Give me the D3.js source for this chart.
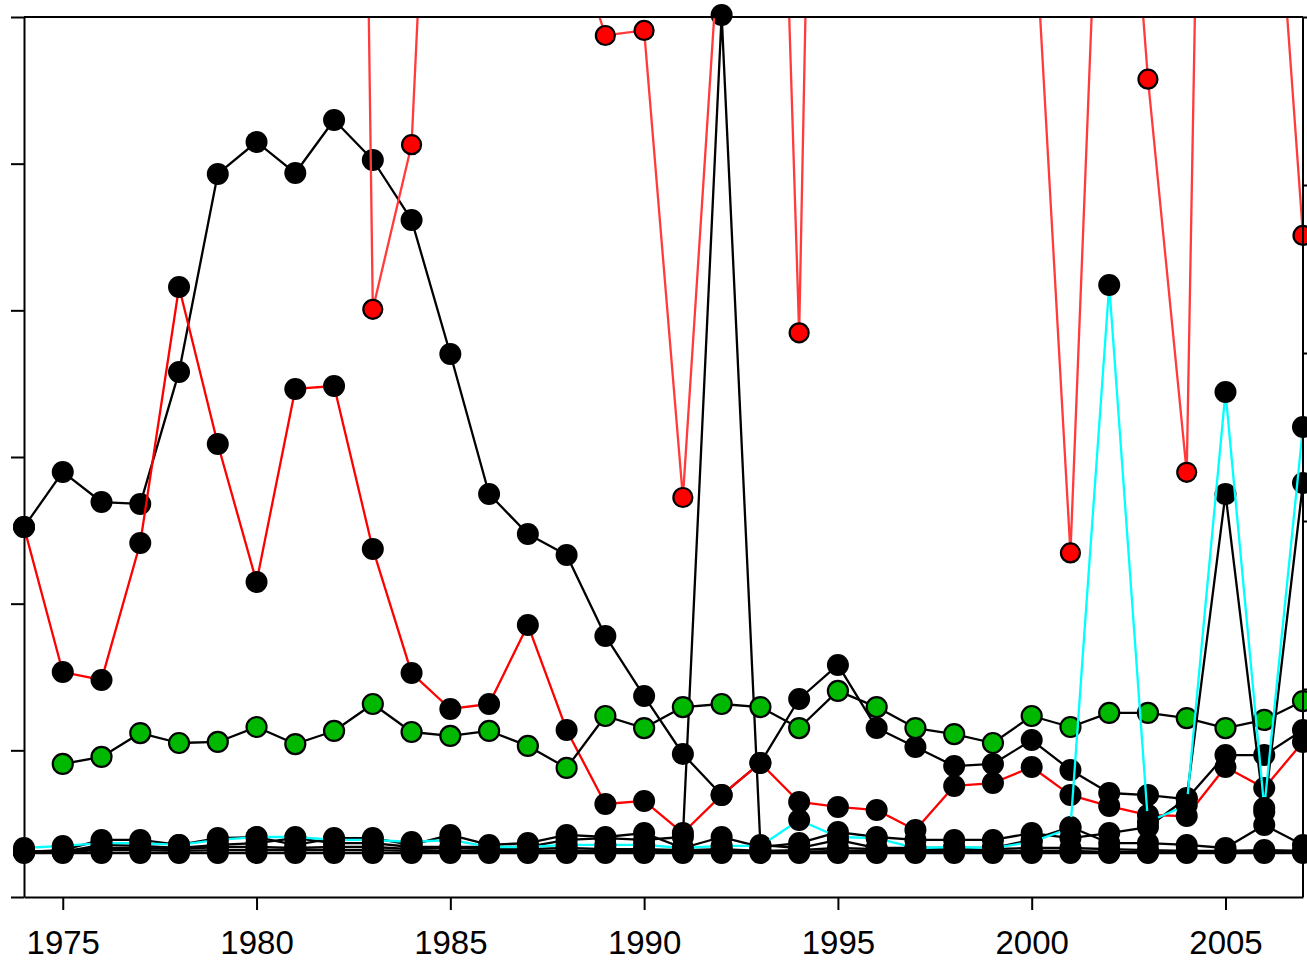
<!DOCTYPE html>
<html>
<head>
<meta charset="utf-8">
<script src="https://cdn.jsdelivr.net/npm/d3@7"></script>
<style>
  body { margin: 0; background: #fff; }
  svg { display: block; background: #fff; }
</style>
</head>
<body>
<svg id="chart" width="1307" height="962"></svg>
<script>
// years on the x axis
var years = [1974, 1975, 1976, 1977, 1978, 1979, 1980, 1981, 1982, 1983, 1984, 1985,
  1986, 1987, 1988, 1989, 1990, 1991, 1992, 1993, 1994, 1995, 1996, 1997,
  1998, 1999, 2000, 2001, 2002, 2003, 2004, 2005, 2006, 2007];
var yearTicks = [1975, 1980, 1985, 1990, 1995, 2000, 2005];
var leftTicks = [0, 10, 20, 30, 40, 50, 60];
var rightTicks = [0, 1, 2, 3, 4, 5];

// left axis series
var blackHump = [25.23, 28.98, 26.93, 26.80, 35.80, 49.30, 51.48, 49.36, 52.98, 50.25, 46.16, 37.02,
  27.48, 24.75, 23.32, 17.80, 13.70, 9.75, 6.95, 9.14, 13.50, 15.82, 11.52, 10.23,
  8.93, 9.07, 10.70, 8.66, 7.09, 6.95, 6.68, 9.68, 9.68, 11.39];
var redLine = [25.23, 15.34, 14.80, 24.14, 41.59, 30.89, 21.48, 34.64, 34.84, 23.73, 15.27, 12.82,
  13.16, 18.55, 11.39, 6.34, 6.55, 4.36, 6.95, 9.14, 6.48, 6.14, 5.93, 4.57,
  7.57, 7.77, 8.86, 6.95, 6.20, 5.59, 5.52, 8.86, 7.43, 10.57];
var greenDots = [null, 9.07, 9.55, 11.18, 10.50, 10.57, 11.59, 10.43, 11.32, 13.16, 11.25, 10.98,
  11.32, 10.30, 8.80, 12.34, 11.52, 12.95, 13.16, 12.95, 11.52, 14.05, 12.95, 11.52,
  11.11, 10.50, 12.34, 11.59, 12.55, 12.55, 12.20, 11.52, 12.07, 13.36];
var cyanLine = [3.34, 3.48, 3.68, 3.68, 3.55, 3.89, 4.09, 4.09, 3.89, 3.89, 3.75, 3.89,
  3.41, 3.41, 3.55, 3.55, 3.55, 3.34, 3.48, 3.48, 5.25, 4.09, 4.02, 3.34,
  3.41, 3.34, 3.75, 4.70, 41.73, 5.11, 6.27, 34.43, 6.07, 32.05];
var spike1992 = [3.07, 3.07, 3.55, 3.48, 3.34, 3.55, 3.68, 4.02, 3.68, 3.68, 3.41, 3.41,
  3.41, 3.41, 3.89, 4.02, 3.89, 4.09, 60.14, 3.55, 3.34, 3.89, 3.34, 3.34,
  3.34, 3.34, 3.89, 4.77, 3.68, 3.68, 3.55, 3.34, 4.91, 3.55];
var spike2005 = [3.07, 3.20, 3.89, 3.89, 3.55, 4.02, 4.09, 3.55, 4.02, 4.02, 3.55, 4.23,
  3.55, 3.68, 4.23, 4.09, 4.36, 3.34, 4.09, 3.41, 3.68, 4.43, 4.09, 3.89,
  3.89, 3.89, 4.36, 4.02, 4.36, 4.77, 6.75, 27.48, 5.80, 28.23];
var flatA = [3.00, 3.00, 3.00, 3.00, 3.00, 3.00, 3.00, 3.00, 3.00, 3.00, 3.00, 3.00,
  3.00, 3.00, 3.00, 3.00, 3.00, 3.00, 3.00, 3.00, 3.00, 3.00, 3.00, 3.00,
  3.00, 3.00, 3.00, 3.00, 3.00, 3.00, 3.00, 3.00, 3.00, 3.00];
var flatB = [3.07, 3.07, 3.20, 3.20, 3.14, 3.20, 3.20, 3.20, 3.20, 3.20, 3.14, 3.14,
  3.14, 3.14, 3.14, 3.14, 3.14, 3.14, 3.14, 3.07, 3.07, 3.14, 3.14, 3.14,
  3.14, 3.14, 3.14, 3.14, 3.07, 3.07, 3.07, 3.07, 3.07, 3.07];
var flatC = [3.07, 3.14, 3.34, 3.34, 3.27, 3.41, 3.41, 3.34, 3.41, 3.41, 3.27, 3.34,
  3.27, 3.27, 3.34, 3.27, 3.27, 3.20, 3.27, 3.14, 3.20, 3.34, 3.27, 3.20,
  3.27, 3.27, 3.34, 3.34, 3.27, 3.20, 3.14, 3.14, 3.20, 3.14];

// right axis series
var redDots = [14, 16, 13, 17, 15, 19, 16, 18, 20.1, 3.26, 4.24, 9.13,
  11, 8, 5.62, 4.89, 4.92, 2.14, 5.68, 10.46, 3.12, 14.77, 12, 15,
  11, 13, 5.89, 1.81, 7.66, 4.63, 2.29, 15.2, 6.90, 3.70];

var svg = d3.select("#chart"),
  margin = {top: 17, right: 4, bottom: 65, left: 24};

var width = +svg.attr("width") - margin.left - margin.right,
  height = +svg.attr("height") - margin.top - margin.bottom;

var x = d3.scaleLinear().domain([1974, 2007]).range([0, width]),
  yLeft = d3.scaleLinear().domain([0, 60]).range([height, 0]),
  yRight = d3.scaleLinear().domain([0, 5]).range([840, 0]);

var g = svg.append("g")
  .attr("transform", "translate(" + margin.left + "," + margin.top + ")");

g.append("clipPath").attr("id", "plotclip")
  .append("rect")
  .attr("x", 0).attr("y", 0)
  .attr("width", width).attr("height", height);

var series = [
  {values: flatA, y: yLeft, line: "#000", fill: "#000", stroke: "none", r: 11},
  {values: flatB, y: yLeft, line: "#000", fill: "#000", stroke: "none", r: 11},
  {values: flatC, y: yLeft, line: "#000", fill: "#000", stroke: "none", r: 11},
  {values: spike1992, y: yLeft, line: "#000", fill: "#000", stroke: "none", r: 11},
  {values: spike2005, y: yLeft, line: "#000", fill: "#000", stroke: "none", r: 11},
  {values: blackHump, y: yLeft, line: "#000", fill: "#000", stroke: "none", r: 11},
  {values: redLine, y: yLeft, line: "#ff0000", fill: "#000", stroke: "none", r: 11},
  {values: greenDots, y: yLeft, line: "#000", fill: "#00b800", stroke: "#000", r: 10},
  {values: cyanLine, y: yLeft, line: "#00ffff", fill: "#000", stroke: "none", r: 11},
  {values: redDots, y: yRight, line: "#ff3b3b", fill: "#ff0000", stroke: "#000", r: 9.5}
];

series.forEach(function(s) {
  var pts = years.map(function(yr, i) { return {year: yr, v: s.values[i]}; });

  var line = d3.line()
    .defined(function(d) { return d.v != null; })
    .x(function(d) { return x(d.year); })
    .y(function(d) { return s.y(d.v); });

  g.append("path")
    .datum(pts)
    .attr("clip-path", "url(#plotclip)")
    .attr("fill", "none")
    .attr("stroke", s.line)
    .attr("stroke-width", 2.3)
    .attr("stroke-linejoin", "round")
    .attr("d", line);

  g.append("g").selectAll("circle")
    .data(pts.filter(function(d) { return d.v != null; }))
    .enter().append("circle")
    .attr("cx", function(d) { return x(d.year); })
    .attr("cy", function(d) { return s.y(d.v); })
    .attr("r", s.r)
    .attr("fill", s.fill)
    .attr("stroke", s.stroke)
    .attr("stroke-width", s.stroke == "none" ? 0 : 2.2);
});

// top frame line
g.append("line")
  .attr("x1", 0).attr("x2", width)
  .attr("y1", 0).attr("y2", 0)
  .attr("stroke", "#000").attr("stroke-width", 2);

var xAxis = g.append("g")
  .attr("class", "axis axis--x")
  .attr("transform", "translate(0," + height + ")")
  .call(d3.axisBottom(x).tickValues(yearTicks).tickFormat(d3.format("d"))
    .tickSize(13).tickSizeOuter(0).tickPadding(21));

var leftAxis = g.append("g")
  .attr("class", "axis axis--y")
  .call(d3.axisLeft(yLeft).tickValues(leftTicks).tickFormat("")
    .tickSize(13).tickSizeOuter(0));

var rightAxis = g.append("g")
  .attr("class", "axis axis--y2")
  .attr("transform", "translate(" + width + ",0)")
  .call(d3.axisRight(yRight).tickValues(rightTicks).tickFormat("")
    .tickSize(13).tickSizeOuter(0));

rightAxis.select(".domain").attr("d", "M0,0V" + height);

svg.selectAll(".axis path, .axis line")
  .attr("stroke", "#000")
  .attr("stroke-width", 2);

xAxis.selectAll("text")
  .attr("font-family", "'Liberation Sans', Arial, sans-serif")
  .attr("font-size", 33)
  .attr("fill", "#000");
</script>
</body>
</html>
